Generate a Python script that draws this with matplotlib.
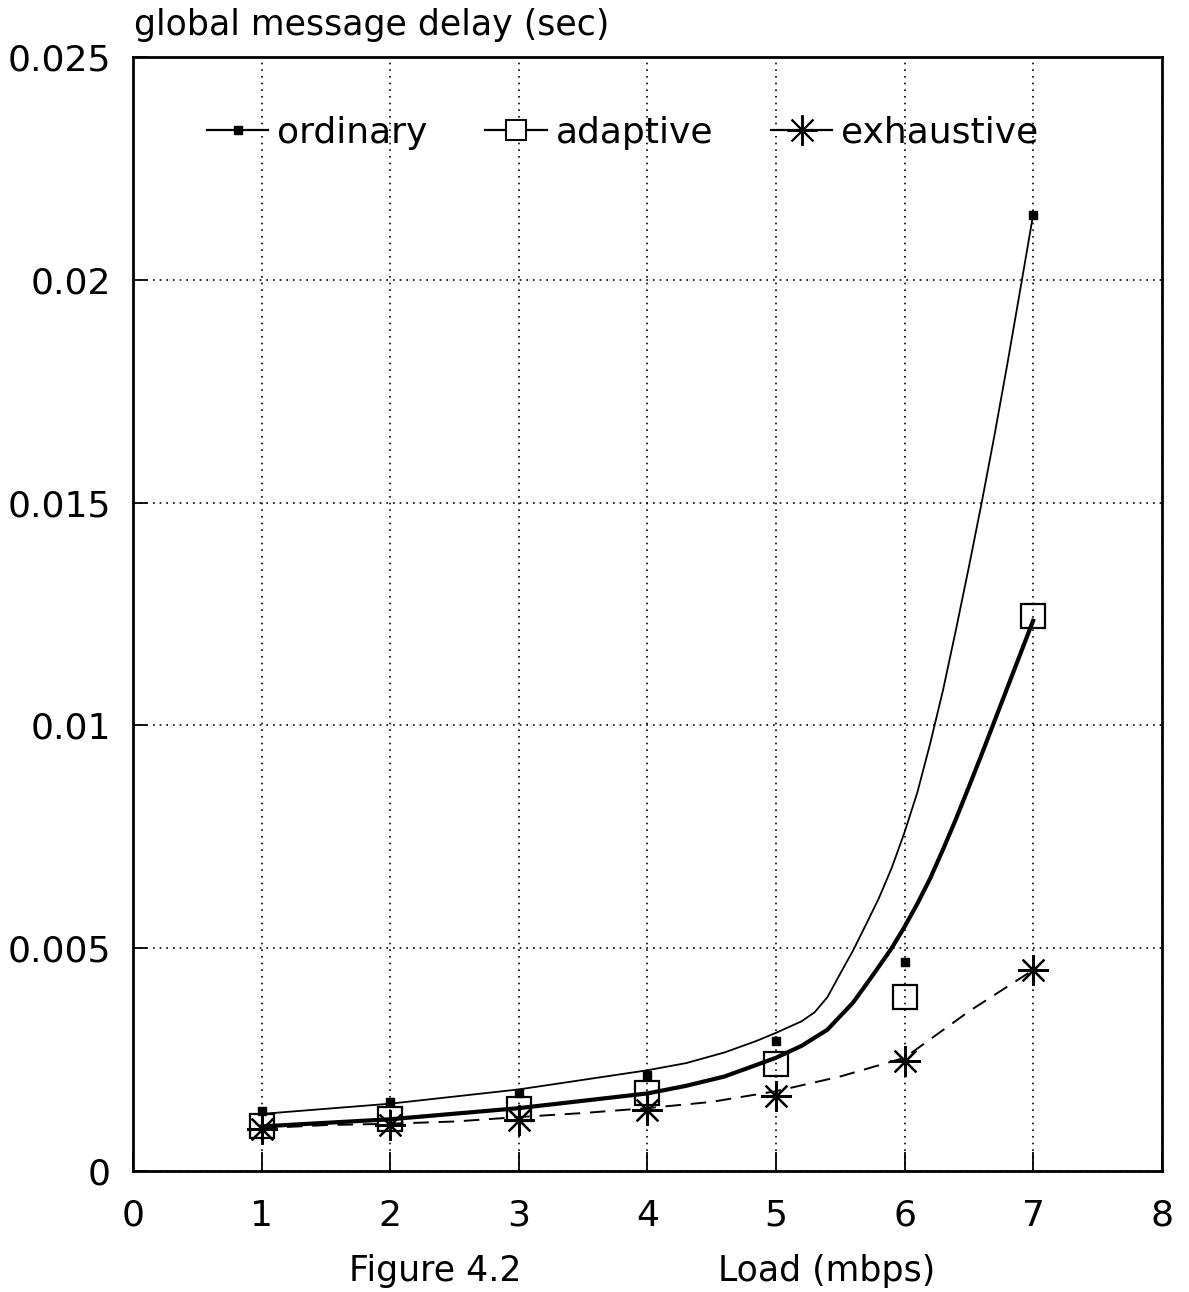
import matplotlib
matplotlib.use("Agg")
import matplotlib.pyplot as plt
from matplotlib.lines import Line2D

# ---- data ----
load = [1, 2, 3, 4, 5, 6, 7]
ordinary_pts = [0.00134, 0.00154, 0.00176, 0.00215, 0.00291, 0.00468, 0.02146]
adaptive_pts = [0.00102, 0.00117, 0.00139, 0.00176, 0.00239, 0.00391, 0.01246]
exhaustive_pts = [0.00094, 0.00104, 0.00114, 0.00137, 0.00168, 0.00246, 0.00451]

# fitted curves
ordinary_curve_x = [1.0, 2.0, 3.0, 4.0, 4.3, 4.6, 4.85, 5.0, 5.2, 5.3, 5.4, 5.5, 5.6, 5.7, 5.8, 5.9,
                    6.0, 6.1, 6.2, 6.3, 6.4, 6.5, 6.6, 6.7, 6.8, 6.9, 7.0]
ordinary_curve_y = [0.00128, 0.00151, 0.00183, 0.00226, 0.00242, 0.00266, 0.00292, 0.00310, 0.00336,
                    0.00356, 0.00390, 0.00443, 0.00495, 0.00553, 0.00612, 0.00680, 0.00760, 0.00850,
                    0.00960, 0.01080, 0.01215, 0.01355, 0.01500, 0.01652, 0.01812, 0.01978, 0.02146]
adaptive_curve_x = [1.0, 2.0, 3.0, 4.0, 4.3, 4.6, 5.0, 5.2, 5.4, 5.6, 5.75, 5.9, 6.0, 6.1, 6.2,
                    6.3, 6.4, 6.5, 6.6, 6.7, 6.8, 6.9, 7.0]
adaptive_curve_y = [0.00100, 0.00116, 0.00141, 0.00174, 0.00191, 0.00212, 0.00254, 0.00281, 0.00317,
                    0.00378, 0.00438, 0.00500, 0.00548, 0.00600, 0.00657, 0.00722, 0.00790, 0.00862,
                    0.00935, 0.01010, 0.01085, 0.01160, 0.01235]
exhaustive_curve_x = [1.0, 1.5, 2.0, 2.5, 3.0, 3.5, 4.0, 4.5, 5.0, 5.5, 6.0, 6.5, 7.0]
exhaustive_curve_y = [0.00096, 0.00103, 0.00106, 0.00111, 0.00121, 0.00130, 0.00141, 0.00155, 0.00179,
                      0.00212, 0.00254, 0.00358, 0.00451]

x_ticks = [0, 1, 2, 3, 4, 5, 6, 7, 8]
y_ticks = [0, 0.005, 0.01, 0.015, 0.02, 0.025]
y_tick_labels = ["0", "0.005", "0.01", "0.015", "0.02", "0.025"]
series_names = ["ordinary", "adaptive", "exhaustive"]

plt.rcParams['font.family'] = ['DejaVu Sans']
FS = 25

fig = plt.figure(figsize=(11.89, 12.92), dpi=100)
ax = fig.add_axes([0.112, 0.0937, 0.865, 0.862])

ast = (8, 2, 0)

# curves
ax.plot(ordinary_curve_x, ordinary_curve_y, color='black', lw=1.3)
ax.plot(adaptive_curve_x, adaptive_curve_y, color='black', lw=3.0)
ax.plot(exhaustive_curve_x, exhaustive_curve_y, color='black', lw=1.4, dashes=(8, 5))

# points
ax.plot(load, ordinary_pts, ls='none', marker='s', ms=5.5, color='black')
ax.plot(load, adaptive_pts, ls='none', marker='s', ms=17, mfc='none', mec='black', mew=1.6)
ax.plot(load, exhaustive_pts, ls='none', marker=ast, ms=22, color='black', mew=1.6)

ax.set_xlim(0, 8)
ax.set_ylim(0, 0.025)
ax.set_xticks(x_ticks)
ax.set_xticklabels([str(t) for t in x_ticks])
ax.set_yticks(y_ticks)
ax.set_yticklabels(y_tick_labels)
ax.tick_params(axis='both', direction='in', labelsize=26, width=1.3, color='black')
ax.tick_params(axis='x', length=14, pad=20)
ax.tick_params(axis='y', length=10, pad=16)
ax.grid(True, color='black', linestyle=(0, (1, 3)), lw=1.2)
for s in ax.spines.values():
    s.set_linewidth(2.0)
    s.set_color('black')

handles = [
    Line2D([], [], color='black', lw=1.6, marker='s', ms=5.5),
    Line2D([], [], color='black', lw=1.6, marker='s', ms=14, mfc='white', mec='black', mew=1.4),
    Line2D([], [], color='black', lw=1.6, marker=ast, ms=22, mew=1.4),
]
leg = ax.legend(handles, series_names, ncol=3, frameon=False, loc='center left',
                bbox_to_anchor=(0.040, 0.932), fontsize=26, handlelength=1.7,
                handletextpad=0.25, columnspacing=1.6)

fig.text(0.113, 0.981, "global message delay (sec)", fontsize=FS, ha='left', va='center')
fig.text(0.366, 0.016, "Figure 4.2", fontsize=FS, ha='center', va='center')
fig.text(0.695, 0.016, "Load (mbps)", fontsize=FS, ha='center', va='center')

fig.savefig("out.png", dpi=100)
